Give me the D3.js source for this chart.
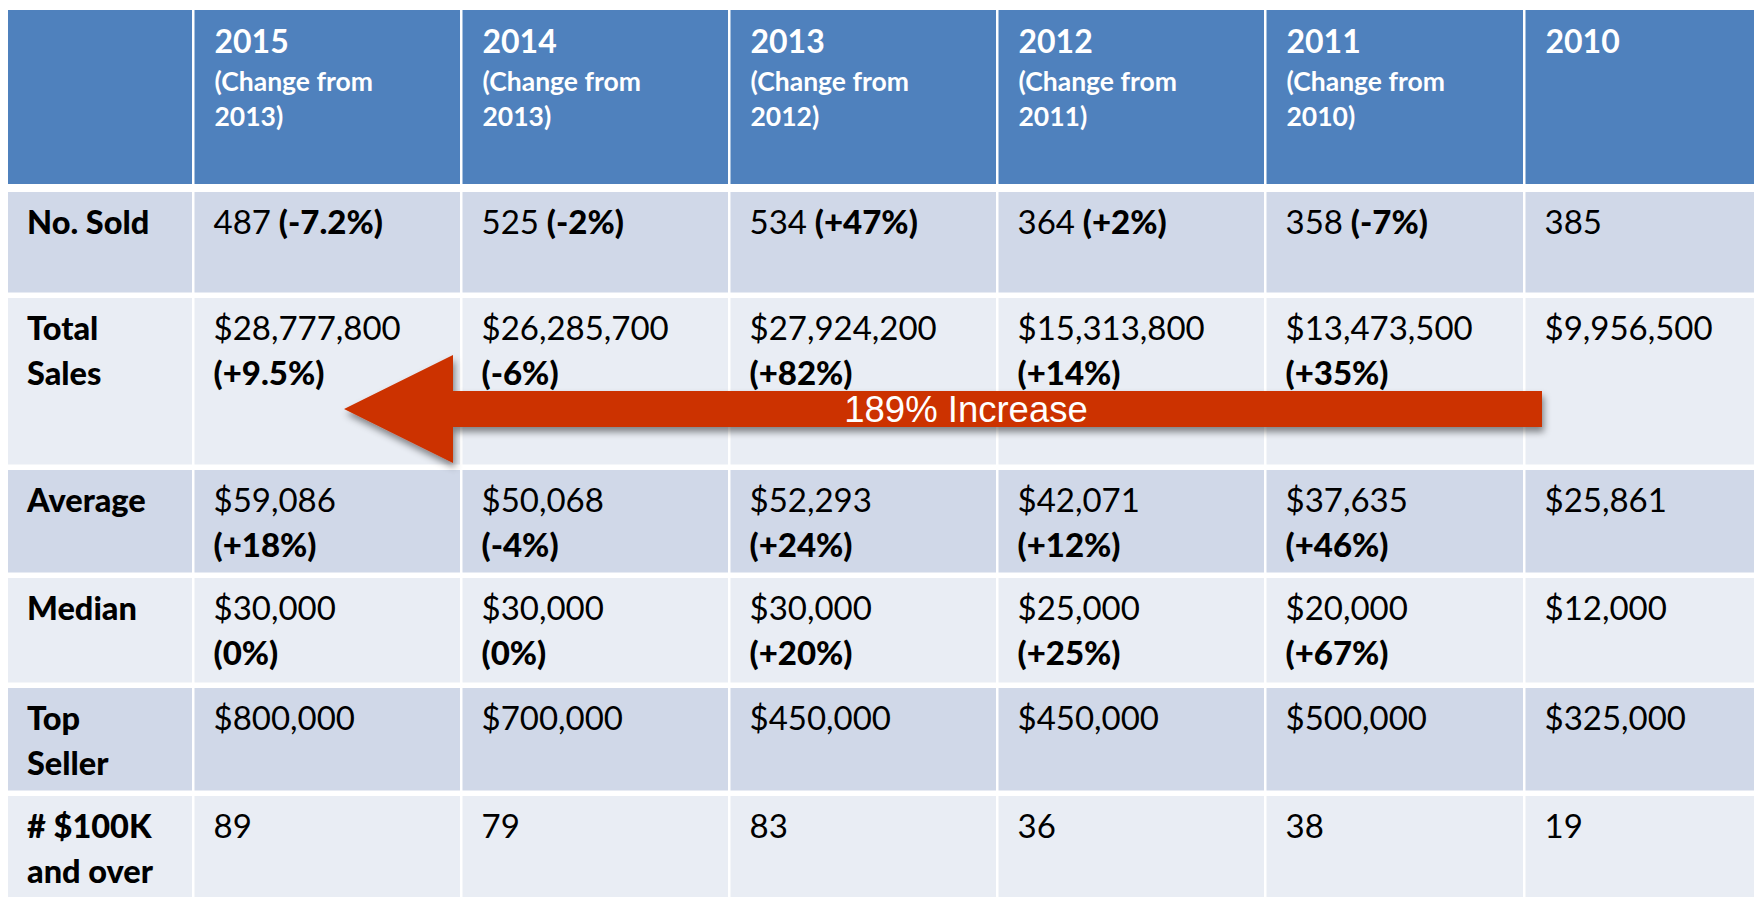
<!DOCTYPE html>
<html>
<head>
<meta charset="utf-8">
<script src="https://cdn.jsdelivr.net/npm/d3@7"></script>
<style>
  html, body { margin: 0; padding: 0; background: #fff; overflow: hidden; }
  svg { display: block; }
</style>
</head>
<body>
<svg id="chart"></svg>
<script>
// table values, newest year first
const years = ["2015", "2014", "2013", "2012", "2011", "2010"];
const changeFrom = ["2013", "2013", "2012", "2011", "2010", null];

const rowLabels = [["No. Sold"], ["Total", "Sales"], ["Average"], ["Median"], ["Top", "Seller"], ["# $100K", "and over"]];

const noSold = [487, 525, 534, 364, 358, 385];
const noSoldChange = ["-7.2%", "-2%", "+47%", "+2%", "-7%", null];
const totalSales = [28777800, 26285700, 27924200, 15313800, 13473500, 9956500];
const totalSalesChange = ["+9.5%", "-6%", "+82%", "+14%", "+35%", null];
const average = [59086, 50068, 52293, 42071, 37635, 25861];
const averageChange = ["+18%", "-4%", "+24%", "+12%", "+46%", null];
const median = [30000, 30000, 30000, 25000, 20000, 12000];
const medianChange = ["0%", "0%", "+20%", "+25%", "+67%", null];
const topSeller = [800000, 700000, 450000, 450000, 500000, 325000];
const over100k = [89, 79, 83, 36, 38, 19];

const arrowLabel = "189% Increase";

const width = 1754;
const height = 897;

const money = d3.format("$,");
const count = d3.format(",");

// each row: formatted value + change, and whether the change sits on the same line
const rows = [
    { vals: noSold.map(count), chg: noSoldChange, inline: true },
    { vals: totalSales.map(money), chg: totalSalesChange },
    { vals: average.map(money), chg: averageChange },
    { vals: median.map(money), chg: medianChange },
    { vals: topSeller.map(money), chg: years.map(() => null) },
    { vals: over100k.map(count), chg: years.map(() => null) }
];

// layout
const colEdges = [8, 194.5, 462.5, 730.5, 998.5, 1266.5, 1525.5, 1800];
const rowTops = [192, 298, 470, 578, 688, 796];
const rowBottoms = [295, 467, 575, 685, 793, 905];
const headTop = 10, headBottom = 184;
const gap = 2.5;
const font = "Lato, 'Open Sans', sans-serif";

const colX = d3.scaleOrdinal().domain(d3.range(colEdges.length - 1)).range(colEdges.slice(0, -1));
const colW = i => colEdges[i + 1] - colEdges[i] - gap;

const rowFill = ["#D0D8E8", "#E9EDF4"];

const svg = d3.select("#chart").attr("width", width).attr("height", height);

const defs = svg.append("defs");
defs.append("filter")
    .attr("id", "shadow")
    .attr("x", "-10%").attr("y", "-30%").attr("width", "120%").attr("height", "160%")
    .append("feDropShadow")
    .attr("dx", 2).attr("dy", 5).attr("stdDeviation", 3.5)
    .attr("flood-color", "#000").attr("flood-opacity", 0.45);

// header
const header = svg.append("g").attr("class", "header");
header.selectAll("rect")
    .data(d3.range(7))
    .enter()
    .append("rect")
    .attr("x", d => colX(d))
    .attr("y", headTop)
    .attr("width", d => colW(d))
    .attr("height", headBottom - headTop)
    .attr("fill", "#4F81BD");

header.selectAll("text.year")
    .data(years)
    .enter()
    .append("text")
    .attr("class", "year")
    .attr("x", (d, i) => colX(i + 1) + 20)
    .attr("y", headTop + 43)
    .attr("fill", "#fff")
    .style("font-family", font)
    .style("font-weight", 700)
    .style("font-size", "32px")
    .text(d => d);

header.selectAll("text.sub")
    .data(changeFrom.map((d, i) => ({ d, i })).filter(o => o.d))
    .enter()
    .append("text")
    .attr("class", "sub")
    .attr("fill", "#fff")
    .style("font-family", font)
    .style("font-weight", 700)
    .style("font-size", "26.5px")
    .each(function (o) {
        const t = d3.select(this);
        t.append("tspan").attr("x", colX(o.i + 1) + 20).attr("y", headTop + 81).text("(Change from");
        t.append("tspan").attr("x", colX(o.i + 1) + 20).attr("y", headTop + 116).text(o.d + ")");
    });

// body rows
const body = svg.append("g").attr("class", "body");
rows.forEach(function (row, r) {
    const g = body.append("g");
    g.selectAll("rect")
        .data(d3.range(7))
        .enter()
        .append("rect")
        .attr("x", d => colX(d))
        .attr("y", rowTops[r])
        .attr("width", d => colW(d))
        .attr("height", rowBottoms[r] - rowTops[r] - gap)
        .attr("fill", rowFill[r % 2]);

    const base = rowTops[r] + 42;
    const lineH = 45;

    const label = g.append("text")
        .attr("fill", "#000")
        .style("font-family", font)
        .style("font-weight", 900)
        .style("font-size", "32.5px");
    rowLabels[r].forEach(function (s, k) {
        label.append("tspan").attr("x", colX(0) + 19).attr("y", base + k * lineH).text(s);
    });

    g.selectAll("text.val")
        .data(row.vals)
        .enter()
        .append("text")
        .attr("class", "val")
        .attr("fill", "#000")
        .style("font-family", font)
        .style("font-size", "33px")
        .each(function (v, i) {
            const t = d3.select(this);
            const x = colX(i + 1) + 19;
            t.append("tspan").attr("x", x).attr("y", base).text(v);
            const c = row.chg[i];
            if (!c) return;
            if (row.inline) {
                t.append("tspan").style("font-weight", 900).text(" (" + c + ")");
            } else {
                t.append("tspan").attr("x", x).attr("y", base + lineH).style("font-weight", 900).text("(" + c + ")");
            }
        });
});

// arrow across the Total Sales row
const tip = [344, 409], headBase = 453, tail = 1542;
const shaftTop = 391, shaftBot = 427, headTopY = 355, headBotY = 463;
const arrowPath = d3.path();
arrowPath.moveTo(tip[0], tip[1]);
arrowPath.lineTo(headBase, headTopY);
arrowPath.lineTo(headBase, shaftTop);
arrowPath.lineTo(tail, shaftTop);
arrowPath.lineTo(tail, shaftBot);
arrowPath.lineTo(headBase, shaftBot);
arrowPath.lineTo(headBase, headBotY);
arrowPath.closePath();

const arrow = svg.append("g").attr("class", "arrow");
arrow.append("path")
    .attr("d", arrowPath.toString())
    .attr("fill", "#CC3300")
    .attr("filter", "url(#shadow)");

arrow.append("text")
    .attr("x", 966)
    .attr("y", 422)
    .attr("text-anchor", "middle")
    .attr("fill", "#fff")
    .style("font-family", "'Liberation Sans', Arial, sans-serif")
    .style("font-size", "36.5px")
    .text(arrowLabel);
</script>
</body>
</html>
